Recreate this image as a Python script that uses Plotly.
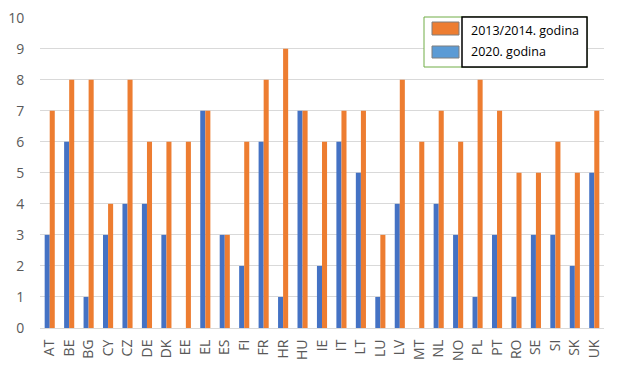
import plotly.graph_objects as go

countries = ["AT", "BE", "BG", "CY", "CZ", "DE", "DK", "EE", "EL", "ES", "FI", "FR", "HR", "HU",
             "IE", "IT", "LT", "LU", "LV", "MT", "NL", "NO", "PL", "PT", "RO", "SE", "SI", "SK", "UK"]
series_2020_name = "2020. godina"
series_2020 = [3, 6, 1, 3, 4, 4, 3, 0, 7, 3, 2, 6, 1, 7,
               2, 6, 5, 1, 4, 0, 4, 3, 1, 3, 1, 3, 3, 2, 5]
series_2013_name = "2013/2014. godina"
series_2013 = [7, 8, 8, 4, 8, 6, 6, 6, 7, 3, 6, 8, 9, 7,
               6, 7, 7, 3, 8, 6, 7, 6, 8, 7, 5, 5, 6, 5, 7]
y_ticks = [0, 1, 2, 3, 4, 5, 6, 7, 8, 9, 10]

BLUE = "#4472C4"
ORANGE = "#ED7D31"
LEG_BLUE = "#5B9BD5"
FONT = "Open Sans"

# page body has an 8px default margin; size the figure to fill the rest of the window
BODY = 8
W, H = 623, 369
ML, MR, MT, MB = 40, 19, 17, 41
FW, FH = W - BODY, H - BODY
PW, PH = W - ML - MR, H - MT - MB


def px(x):
    return (x - ML) / PW


def py(y):
    return (H - MB - y) / PH


fig = go.Figure()
fig.add_trace(go.Bar(x=countries, y=series_2020, name=series_2020_name,
                     marker=dict(color=BLUE, line=dict(width=0))))
fig.add_trace(go.Bar(x=countries, y=series_2013, name=series_2013_name,
                     marker=dict(color=ORANGE, line=dict(width=0))))

shapes = [
    dict(type="rect", xref="paper", yref="paper", x0=px(424), x1=px(587), y0=py(67), y1=py(17),
         line=dict(color="#70AD47", width=1), fillcolor="white", layer="above"),
    dict(type="rect", xref="paper", yref="paper", x0=px(462), x1=px(587), y0=py(67), y1=py(17),
         line=dict(color="black", width=1.5), fillcolor="white", layer="above"),
    dict(type="rect", xref="paper", yref="paper", x0=px(432), x1=px(459), y0=py(35), y1=py(22),
         line=dict(color="#7F7F7F", width=1), fillcolor=ORANGE, layer="above"),
    dict(type="rect", xref="paper", yref="paper", x0=px(432), x1=px(459), y0=py(58), y1=py(46),
         line=dict(color="#7F7F7F", width=1), fillcolor=LEG_BLUE, layer="above"),
]
annotations = [
    dict(text=series_2013_name, xref="paper", yref="paper", x=px(469), y=py(30), xanchor="left",
         yanchor="middle", showarrow=False, font=dict(family=FONT, size=12.5, color="black")),
    dict(text=series_2020_name, xref="paper", yref="paper", x=px(469), y=py(52), xanchor="left",
         yanchor="middle", showarrow=False, font=dict(family=FONT, size=12.5, color="black")),
]

fig.update_layout(
    width=FW, height=FH,
    margin=dict(l=ML - BODY, r=MR, t=MT - BODY, b=MB, pad=0, autoexpand=False),
    paper_bgcolor="white", plot_bgcolor="white",
    barmode="group", bargap=0.48, bargroupgap=0,
    showlegend=False,
    font=dict(family=FONT, color="#595959"),
    shapes=shapes, annotations=annotations,
)
fig.update_xaxes(
    type="category", tickangle=-90, tickfont=dict(size=14, color="#595959"),
    showgrid=False, showline=True, linecolor="#D9D9D9", linewidth=1,
    ticks="outside", ticklen=5, tickcolor="rgba(0,0,0,0)", automargin=False,
)
fig.update_yaxes(
    range=[0, 10.02], tickvals=y_ticks, tickfont=dict(size=14, color="#595959"),
    showgrid=True, gridcolor="#D9D9D9", gridwidth=1,
    zeroline=True, zerolinecolor="#D9D9D9", zerolinewidth=1,
    showline=False, ticks="outside", ticklen=12, tickcolor="rgba(0,0,0,0)", automargin=False,
    ticklabeloverflow="allow",
)

fig.write_html("out.html")
